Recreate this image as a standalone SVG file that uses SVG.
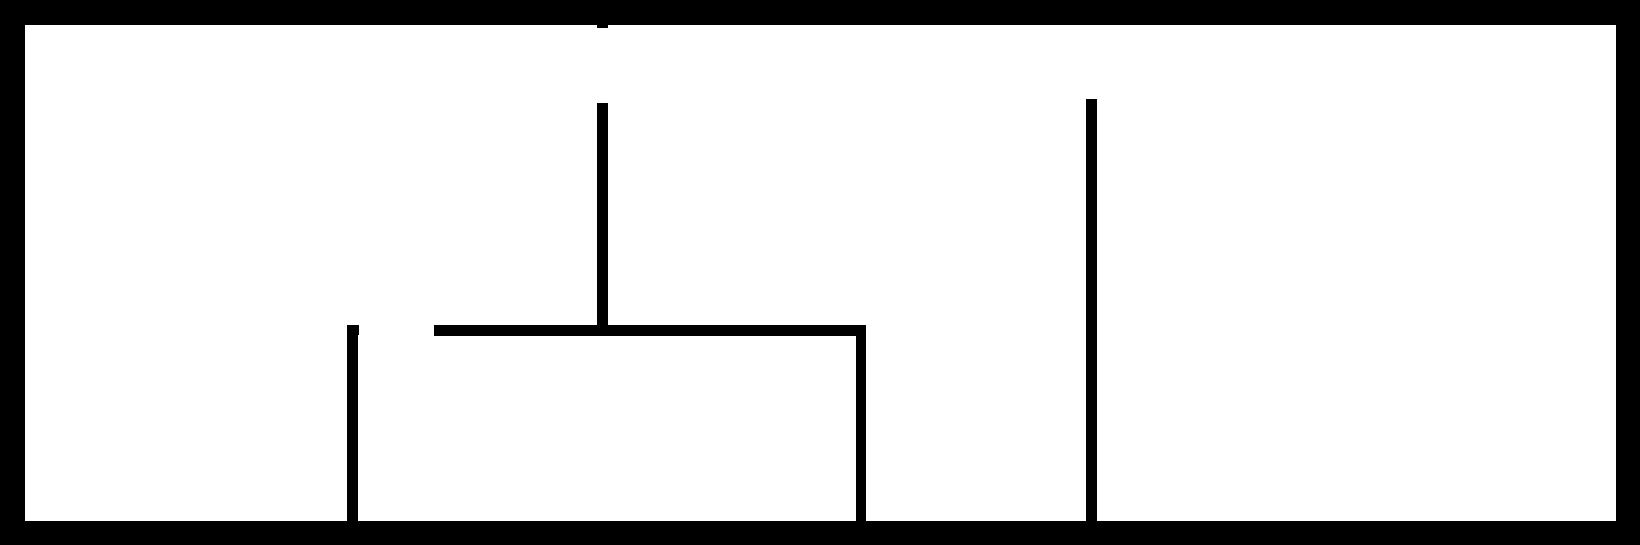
<svg xmlns="http://www.w3.org/2000/svg" width="1640" height="545" viewBox="0 0 1640 545">
<style>.w{fill:#000}</style>
<rect x="0" y="0" width="1640" height="545" fill="#fff"/>
<path class="w" fill-rule="evenodd" d="M0 0H1640V545H0Z M25 25V521H1616V25Z"/>
<g id="walls">
<rect class="w" x="597" y="25" width="11" height="3"/>
<rect class="w" x="597" y="103" width="11" height="233"/>
<rect class="w" x="434" y="325" width="432" height="11"/>
<rect class="w" x="856" y="325" width="10" height="196"/>
<rect class="w" x="347" y="325" width="12" height="10"/>
<rect class="w" x="347" y="325" width="11" height="196"/>
<rect class="w" x="1086" y="99" width="11" height="422"/>
</g>
</svg>
